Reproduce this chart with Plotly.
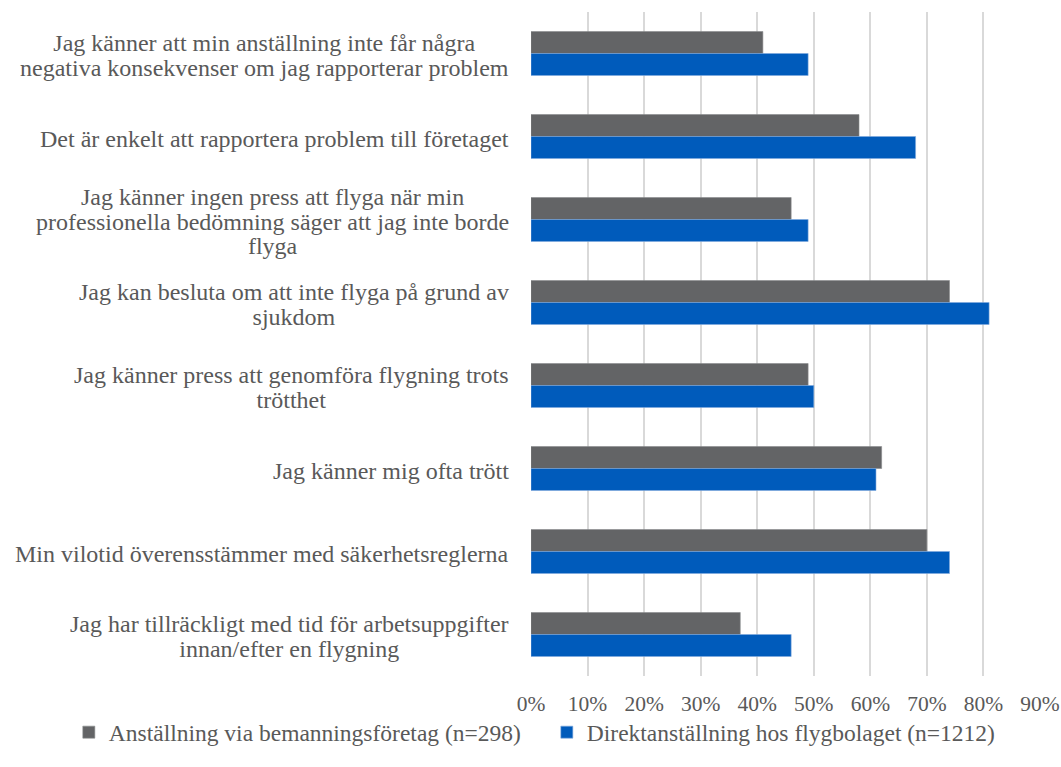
import plotly.graph_objects as go

categories = [
    "Jag känner att min anställning inte får några<br>negativa konsekvenser om jag rapporterar problem",
    "Det är enkelt att rapportera problem till företaget",
    "Jag känner ingen press att flyga när min<br>professionella bedömning säger att jag inte borde<br>flyga",
    "Jag kan besluta om att inte flyga på grund av<br>sjukdom",
    "Jag känner press att genomföra flygning trots<br>trötthet",
    "Jag känner mig ofta trött",
    "Min vilotid överensstämmer med säkerhetsreglerna",
    "Jag har tillräckligt med tid för arbetsuppgifter<br>innan/efter en flygning",
]
series_names = [
    "Anställning via bemanningsföretag (n=298)",
    "Direktanställning hos flygbolaget (n=1212)",
]
bemanning = [0.41, 0.58, 0.46, 0.74, 0.49, 0.62, 0.70, 0.37]
direkt = [0.49, 0.68, 0.49, 0.81, 0.50, 0.61, 0.74, 0.46]
tick_values = [0, 0.1, 0.2, 0.3, 0.4, 0.5, 0.6, 0.7, 0.8, 0.9]

FONT = "Liberation Serif"
TEXT = "#595959"
CAT_SIZE = 24
TICK_SIZE = 21.5
LEGEND_SIZE = 23.5

fig = go.Figure()
fig.add_trace(go.Bar(
    y=categories, x=bemanning, name=series_names[0], orientation="h",
    marker=dict(color="#636466", line=dict(color="#8a8b8d", width=0.6)),
))
fig.add_trace(go.Bar(
    y=categories, x=direkt, name=series_names[1], orientation="h",
    marker=dict(color="#005BBB", line=dict(color="#7fa9dd", width=0.6)),
))

# category labels: block right-aligned next to the axis, lines centred;
# the annotation font sets the (tight) line pitch, the spans set glyph size
for cat in categories:
    lines = cat.split("<br>")
    styled = "<br>".join(f"<span style='font-size:{CAT_SIZE}px'>{ln}</span>" for ln in lines)
    fig.add_annotation(
        x=0, xref="paper", y=cat, yref="y", xanchor="right", yanchor="middle",
        xshift=-20, yshift=-2, text=styled, showarrow=False, align="center",
        font=dict(family=FONT, size=19, color=TEXT),
    )

fig.update_layout(
    width=1061, height=767,
    margin=dict(l=531, r=21, t=12, b=91),
    paper_bgcolor="white", plot_bgcolor="white",
    barmode="group", bargap=0.47, bargroupgap=0,
    font=dict(family=FONT, size=LEGEND_SIZE, color=TEXT),
    showlegend=True,
    legend=dict(
        orientation="h", xref="paper", x=-0.908, xanchor="left",
        yref="paper", y=-0.118, yanchor="bottom",
        font=dict(family=FONT, size=LEGEND_SIZE, color=TEXT),
        itemwidth=30, traceorder="normal",
        entrywidthmode="pixels", entrywidth=433,
        bgcolor="rgba(0,0,0,0)",
    ),
    xaxis=dict(
        range=[0, 0.9], tickvals=tick_values, tickformat=".0%",
        showgrid=True, gridcolor="#D9D9D9", gridwidth=1.5,
        zeroline=False, showline=False, ticks="", ticklen=0,
        tickfont=dict(family=FONT, size=TICK_SIZE, color=TEXT),
        ticklabeloverflow="allow", ticklabelstandoff=12, automargin=False,
    ),
    yaxis=dict(
        categoryorder="array", categoryarray=categories, autorange="reversed",
        showticklabels=False, showgrid=False, zeroline=False, showline=False,
        automargin=False,
    ),
)

fig.write_html("out.html")
